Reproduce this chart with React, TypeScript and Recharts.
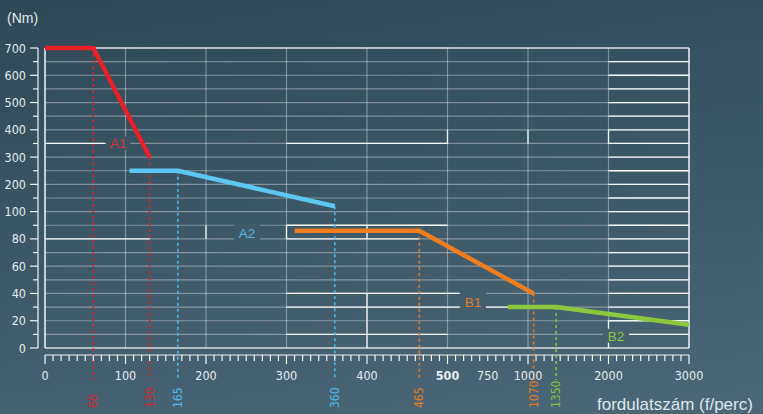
import React from 'react';
import { LineChart, Line, XAxis, YAxis, CartesianGrid, ReferenceLine, ReferenceDot } from 'recharts';

// ---- data ----
const xTickRpm = [0, 100, 200, 300, 400, 500, 750, 1000, 2000, 3000];
const xTickLabels = ['0', '100', '200', '300', '400', '500', '750', '1000', '2000', '3000'];
const yTickNm = [0, 20, 40, 60, 80, 100, 200, 300, 400, 500, 600, 700];
const yTickLabels = ['0', '20', '40', '60', '80', '100', '200', '300', '400', '500', '600', '700'];

const a1Rpm = [0, 60, 130];
const a1Nm = [700, 700, 300];
const a2Rpm = [105, 165, 360];
const a2Nm = [250, 250, 120];
const b1Rpm = [310, 465, 1070];
const b1Nm = [86, 86, 40];
const b2Rpm = [875, 1350, 3000];
const b2Nm = [30, 30, 17];

const dropRpm = [60, 130, 165, 360, 465, 1070, 1350];
const dropNm = [700, 300, 250, 120, 86, 40, 30];

const seriesNames = ['A1', 'A2', 'B1', 'B2'];
const labelRpm = [91, 251, 658, 2093];
const labelNm = [350, 84, 34, 9];

// ---- styles ----
const RED = '#e8202a';
const BLUE = '#5ec6f2';
const ORANGE = '#f07d1e';
const GREEN = '#8cc83c';
const dropColors = ['#d42530', '#d42530', '#4fb8ea', '#4fb8ea', '#e47a28', '#e47a28', '#86c23c'];
const labelColors = ['#d8323a', '#55b6e4', '#e27b30', '#8cc63e'];
const labelBg = ['#395361', '#3f5a69', '#435e6d', '#47616f'];
const labelBox = [[24, 14], [26, 20], [26, 20], [26, 14]];
const GRID = 'rgba(255,255,255,0.36)';
const WHITE = '#f2f6f8';
const TICK_FONT = "'Liberation Sans Narrow', 'DejaVu Sans Condensed', 'Liberation Sans', sans-serif";
const TEXT_FONT = "'Liberation Sans', Arial, sans-serif";

// piecewise axis transforms (the original chart uses broken scales)
const tx = (r: number) => (r <= 500 ? r / 100 : r <= 1000 ? 5 + (r - 500) / 500 : 6 + (r - 1000) / 1000);
const ty = (n: number) => (n <= 100 ? n / 20 : 5 + (n - 100) / 100);

const build = (rs: number[], ns: number[]) => rs.map((r, i) => ({ u: tx(r), w: ty(ns[i]) }));
const a1Data = build(a1Rpm, a1Nm);
const a2Data = build(a2Rpm, a2Nm);
const b1Data = build(b1Rpm, b1Nm);
const b2Data = build(b2Rpm, b2Nm);

const isInt = (v: number) => Math.abs(v - Math.round(v)) < 1e-6;
const xTicks = Array.from({ length: 81 }, (_, i) => i / 10);
const yTicks = Array.from({ length: 23 }, (_, i) => i / 2);

// decorative white highlight segments [rpm1, nm1, rpm2, nm2]
const whiteSegs: number[][] = [
  [0, 350, 75, 350],
  [300, 350, 500, 350],
  [500, 350, 500, 400],
  [1000, 350, 1000, 400],
  [2000, 350, 2000, 400],
  [0, 80, 130, 80],
  [200, 80, 200, 90],
  [300, 90, 500, 90],
  [300, 80, 465, 80],
  [300, 80, 300, 90],
  [400, 80, 400, 90],
  [300, 40, 577, 40],
  [300, 30, 577, 30],
  [733, 30, 875, 30],
  [400, 0, 400, 40],
  [300, 10, 500, 10],
  [2000, 0, 2000, 20],
];
const rightColumnIdx = Array.from({ length: 21 }, (_, i) => (i + 1) / 2);

const XTick = (props: any) => {
  const { x, payload } = props;
  const v = payload.value as number;
  const major = isInt(v);
  const li = xTickRpm.findIndex((r) => Math.abs(tx(r) - v) < 1e-6);
  return (
    <g>
      <line x1={x} x2={x} y1={355} y2={major ? 364 : 361} stroke={WHITE} strokeWidth={1.2} />
      {li >= 0 && (
        <text
          x={x}
          y={380}
          textAnchor="middle"
          fill="#e4ebee"
          fontSize={12.5}
          fontFamily={TICK_FONT}
          fontWeight={xTickLabels[li] === '500' ? 700 : 400}
        >
          {xTickLabels[li]}
        </text>
      )}
    </g>
  );
};

const YTick = (props: any) => {
  const { y, payload } = props;
  const v = payload.value as number;
  const major = isInt(v);
  return (
    <g>
      <line x1={major ? 30 : 33} x2={38} y1={y} y2={y} stroke={WHITE} strokeWidth={1.2} />
      {major && (
        <text x={26} y={y + 4.5} textAnchor="end" fill="#e4ebee" fontSize={12.5} fontFamily={TICK_FONT}>
          {yTickLabels[Math.round(v)]}
        </text>
      )}
    </g>
  );
};

export default function App() {
  return (
    <div
      style={{
        position: 'absolute',
        left: 0,
        top: 0,
        width: 763,
        height: 414,
        overflow: 'hidden',
        background: 'linear-gradient(172deg, #2e4856 0%, #3a5564 42%, #4c6777 100%)',
      }}
    >
      <div
        style={{
          position: 'absolute',
          left: 7,
          top: 10,
          fontSize: 14,
          lineHeight: '16px',
          color: '#e2eaee',
          fontFamily: TEXT_FONT,
        }}
      >
        (Nm)
      </div>
      <div
        style={{
          position: 'absolute',
          left: 597,
          top: 395,
          fontSize: 17,
          lineHeight: '19px',
          color: '#dfe7eb',
          fontFamily: TEXT_FONT,
          whiteSpace: 'nowrap',
        }}
      >
        fordulatszám (f/perc)
      </div>
      <LineChart width={763} height={414} margin={{ top: 48, right: 74, left: 0, bottom: 0 }}>
        <CartesianGrid vertical={false} stroke={GRID} strokeWidth={1.2} />
        <XAxis
          type="number"
          dataKey="u"
          domain={[0, 8]}
          ticks={xTicks}
          interval={0}
          tick={<XTick />}
          tickLine={false}
          axisLine={false}
          height={66}
        />
        <YAxis
          type="number"
          domain={[0, 11]}
          ticks={yTicks}
          interval={0}
          tick={<YTick />}
          tickLine={false}
          axisLine={false}
          width={45}
        />
        {[1, 2, 3, 4, 5, 6, 7].map((u) => (
          <ReferenceLine key={'v' + u} x={u} stroke={GRID} strokeWidth={1.2} />
        ))}
        {rightColumnIdx.map((w) => (
          <ReferenceLine
            key={'rc' + w}
            segment={[{ x: 7, y: w }, { x: 8, y: w }]}
            stroke={WHITE}
            strokeWidth={1.3}
          />
        ))}
        {whiteSegs.map((s, i) => (
          <ReferenceLine
            key={'ws' + i}
            segment={[{ x: tx(s[0]), y: ty(s[1]) }, { x: tx(s[2]), y: ty(s[3]) }]}
            stroke={WHITE}
            strokeWidth={1.3}
          />
        ))}
        {/* frame */}
        <ReferenceLine y={11} stroke="rgba(255,255,255,0.55)" strokeWidth={2} />
        <ReferenceLine y={0} stroke="rgba(255,255,255,0.5)" strokeWidth={2} />
        <ReferenceLine x={0} stroke={WHITE} strokeWidth={1.5} />
        <ReferenceLine x={8} stroke={WHITE} strokeWidth={1.5} />
        {/* y axis line and x axis line (offset from the frame) */}
        <ReferenceLine
          segment={[{ x: -7 / 80.5, y: 0 }, { x: -7 / 80.5, y: 11 }]}
          stroke={WHITE}
          strokeWidth={1.2}
          ifOverflow="visible"
        />
        <ReferenceLine
          segment={[{ x: 0, y: -7 / 27.27 }, { x: 8, y: -7 / 27.27 }]}
          stroke={WHITE}
          strokeWidth={1.2}
          ifOverflow="visible"
        />
        {/* drop lines */}
        {dropRpm.map((r, i) => (
          <ReferenceLine
            key={'d' + i}
            segment={[{ x: tx(r), y: ty(dropNm[i]) }, { x: tx(r), y: -32 / 27.27 }]}
            stroke={dropColors[i]}
            strokeWidth={1.6}
            strokeDasharray="3 3"
            ifOverflow="visible"
          />
        ))}
        {dropRpm.map((r, i) => (
          <ReferenceDot
            key={'dl' + i}
            x={tx(r)}
            y={0}
            r={0}
            ifOverflow="visible"
            shape={(p: any) => (
              <text
                x={p.cx}
                y={p.cy + 60}
                transform={`rotate(-90 ${p.cx} ${p.cy + 60})`}
                textAnchor="start"
                dominantBaseline="central"
                fill={dropColors[i]}
                fontSize={12}
                fontFamily={TICK_FONT}
              >
                {String(r)}
              </text>
            )}
          />
        ))}
        {/* series labels */}
        {seriesNames.map((n, i) => (
          <ReferenceDot
            key={'lb' + i}
            x={tx(labelRpm[i])}
            y={ty(labelNm[i])}
            r={0}
            ifOverflow="visible"
            shape={(p: any) => (
              <g>
                <rect
                  x={p.cx - labelBox[i][0] / 2}
                  y={p.cy - labelBox[i][1] / 2}
                  width={labelBox[i][0]}
                  height={labelBox[i][1]}
                  fill={labelBg[i]}
                />
                <text
                  x={p.cx}
                  y={p.cy + 5}
                  textAnchor="middle"
                  fill={labelColors[i]}
                  fontSize={13.5}
                  fontFamily={TEXT_FONT}
                >
                  {n}
                </text>
              </g>
            )}
          />
        ))}
        <Line data={a1Data} dataKey="w" type="linear" stroke={RED} strokeWidth={4.5} dot={false} isAnimationActive={false} />
        <Line data={a2Data} dataKey="w" type="linear" stroke={BLUE} strokeWidth={4.5} dot={false} isAnimationActive={false} />
        <Line data={b1Data} dataKey="w" type="linear" stroke={ORANGE} strokeWidth={4.5} dot={false} isAnimationActive={false} />
        <Line data={b2Data} dataKey="w" type="linear" stroke={GREEN} strokeWidth={4.5} dot={false} isAnimationActive={false} />
      </LineChart>
    </div>
  );
}
